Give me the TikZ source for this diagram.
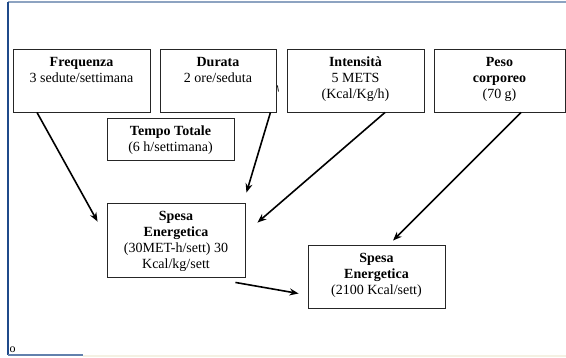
\documentclass[tikz,border=0pt]{standalone}
\usepackage{fontspec}
\setmainfont{Liberation Serif}
\usepackage{tikz}
\usetikzlibrary{positioning, arrows.meta, calc}
\usepackage{xcolor}
\definecolor{cornice}{HTML}{1F4A8A}
\definecolor{cornicechiara}{HTML}{8DA3C1}
\definecolor{crema}{HTML}{F4F1E3}

\begin{document}
\begin{tikzpicture}[x=1pt, y=-1pt, font=\fontsize{14}{16}\selectfont,
    scat/.style={draw=black!85, line width=0.9pt, inner sep=0pt},
    freccia/.style={line width=1.6pt, -{Stealth[length=9pt, width=7pt]}}]
        \useasboundingbox[fill=white] (0,0) rectangle (566,357);
        % Helper: riquadro #1 con centro (#2,#3), larghezza #4, altezza #5, testo #6
        \def\riquadro#1#2#3#4#5#6{%
          \node[scat, minimum width=#4pt, minimum height=#5pt] (#1) at (#2,#3) {};
          \node[anchor=north, align=center, inner sep=0pt] (#1-t) at ([yshift=-8.5pt]#1.north) {#6};
        }
        % Cornice della pagina
        \fill[crema] (83,354.5) rectangle (566,357);
        \draw[cornicechiara, line width=2pt] (8,1.5) -- (566,1.5);
        \draw[cornice, line width=1.5pt] (8,1.5) -- (8,355);
        \draw[cornice!70, line width=1.2pt] (8,355) -- (83,355);
        \node[font=\fontsize{12}{13}\selectfont, anchor=base west, inner sep=0pt] (nota) at (9.5,352) {o};
        % Fattori
        \riquadro{freq}{81.5}{80.5}{137}{63}{\textbf{Frequenza}\\3 sedute/settimana}
        \riquadro{durata}{218}{80.5}{116}{63}{\textbf{Durata}\\2 ore/seduta}
        \riquadro{intens}{355.5}{80.5}{137}{63}{\textbf{Intensità}\\5 METS\\(Kcal/Kg/h)}
        \riquadro{peso}{499.5}{80.5}{131}{63}{\textbf{Peso}\\\textbf{corporeo}\\(70 g)}
        \riquadro{tempo}{170.5}{139}{127}{42}{\textbf{Tempo Totale}\\(6 h/settimana)}
        % Risultati
        \riquadro{spesa}{176}{240}{138}{74}{\textbf{Spesa}\\\textbf{Energetica}\\(30MET-h/sett) 30\\Kcal/kg/sett}
        \riquadro{spesatot}{376.5}{276.5}{137}{63}{\textbf{Spesa}\\\textbf{Energetica}\\(2100 Kcal/sett)}
        \draw[line width=0.8pt] ($(durata.east)+(1,5)$) -- ++(1,6);
        % Frecce
        \draw[freccia] ([xshift=-44.5pt]freq.south) -- ($(spesa.north west)+(-9,19)$);
        \draw[freccia] ([xshift=-6pt]durata.south east) -- ($(spesa.north east)+(1,-10)$);
        \draw[freccia] ([xshift=29.5pt]intens.south) -- ($(spesa.north east)+(12,20)$);
        \draw[freccia] ([xshift=21.5pt]peso.south) -- ($(spesatot.north)+(16.5,-4)$);
        \draw[freccia] ($(spesa.south east)+(-10,5)$) -- ($(spesatot.west)+(-9,17)$);
      \end{tikzpicture}
\end{document}
